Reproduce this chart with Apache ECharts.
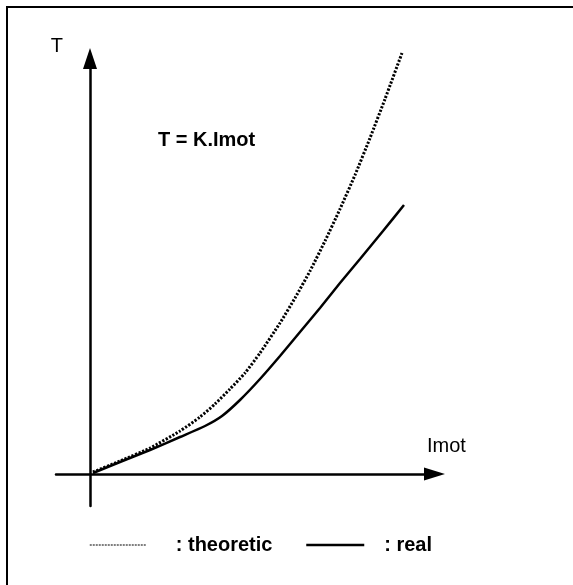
<!DOCTYPE html>
<html>
<head>
<meta charset="utf-8">
<title>T = K.Imot</title>
<script src="https://cdn.jsdelivr.net/npm/echarts/dist/echarts.min.js"></script>
<style>
  html, body { margin: 0; padding: 0; background: #fff; }
  #frame { position: absolute; left: 6px; top: 6px; width: 600px; height: 600px; border-top: 2px solid #000; border-left: 2px solid #000; }
  #chart { position: absolute; left: 0; top: 0; width: 573px; height: 585px; }
</style>
</head>
<body>
<div id="frame"></div>
<div id="chart"></div>
<script>
// theoretic torque (dotted)
var imotTheoretic = [0.3, 3.0, 6.0, 9.0, 11.0, 12.5, 14.0, 15.5, 17.0, 19.0, 20.5, 22.0, 23.5, 25.0, 26.5, 28.0, 29.5, 31.2];
var torqueTheoretic = [0.2, 1.3, 2.6, 4.3, 5.7, 7.0, 8.5, 10.1, 12.1, 15.1, 17.6, 20.3, 23.3, 26.5, 29.9, 33.6, 37.5, 42.1];

// real torque (solid)
var imotReal = [0.3, 3.0, 6.0, 9.0, 11.5, 13.2, 15.0, 17.0, 19.0, 21.0, 23.0, 25.0, 27.0, 29.3, 31.4];
var torqueReal = [0.1, 1.2, 2.4, 3.7, 4.8, 5.8, 7.4, 9.5, 11.8, 14.2, 16.6, 19.1, 21.5, 24.3, 26.9];

var legendNames = ["theoretic", "real"];

function pairs(xs, ys) {
  return xs.map(function(x, i) {
    return [x, ys[i]];
  });
}

var chart = echarts.init(document.getElementById("chart"));
var font = "Liberation Sans, Arial, sans-serif";
var noSymbol = { color: "rgba(0,0,0,0)", borderColor: "rgba(0,0,0,0)", borderWidth: 0 };

chart.setOption({
  animation: false,
  textStyle: { fontFamily: font },
  title: {
    text: "T = K.Imot",
    left: 158,
    top: 130,
    padding: 0,
    textStyle: { fontSize: 20, fontWeight: "bold", color: "#000", fontFamily: font }
  },
  legend: [
    {
      data: [legendNames[0]],
      left: 89,
      top: 535,
      padding: 0,
      itemWidth: 57,
      itemHeight: 14,
      formatter: ": {name}",
      itemStyle: noSymbol,
      lineStyle: { color: "#555", width: 1.5, type: [2, 1] },
      textStyle: { fontSize: 20, fontWeight: "bold", color: "#000", padding: [0, 0, 0, 24] }
    },
    {
      data: [legendNames[1]],
      left: 305,
      top: 535,
      padding: 0,
      itemWidth: 58,
      itemHeight: 14,
      formatter: ": {name}",
      itemStyle: noSymbol,
      lineStyle: { color: "#000", width: 2.5 },
      textStyle: { fontSize: 20, fontWeight: "bold", color: "#000", padding: [0, 0, 0, 15] }
    }
  ],
  grid: {
    left: 56,
    right: 138.5,
    top: 58.5,
    bottom: 79
  },
  xAxis: {
    type: "value",
    min: -3.4,
    max: 34.45,
    name: "Imot",
    nameLocation: "end",
    nameGap: -7.5,
    nameTextStyle: { fontSize: 20, color: "#000", align: "left", verticalAlign: "bottom", padding: [0, 0, 18, 0] },
    axisLine: {
      onZero: true,
      symbol: ["none", "triangle"],
      symbolSize: [13, 21],
      lineStyle: { color: "#000", width: 2.5 }
    },
    axisTick: { show: false },
    axisLabel: { show: false },
    splitLine: { show: false }
  },
  yAxis: {
    type: "value",
    min: -3.2,
    max: 41.55,
    name: "T",
    nameLocation: "end",
    nameGap: 2,
    nameTextStyle: { fontSize: 20, color: "#000", align: "right", verticalAlign: "bottom", padding: [0, 27, 0, 0] },
    axisLine: {
      onZero: true,
      symbol: ["none", "triangle"],
      symbolSize: [14, 21],
      lineStyle: { color: "#000", width: 2.5 }
    },
    axisTick: { show: false },
    axisLabel: { show: false },
    splitLine: { show: false }
  },
  series: [
    {
      name: legendNames[0],
      type: "line",
      data: pairs(imotTheoretic, torqueTheoretic),
      smooth: 0.2,
      symbol: "none",
      clip: false,
      itemStyle: { color: "#000" },
      lineStyle: { color: "#000", width: 3, type: [2.2, 1.6] }
    },
    {
      name: legendNames[1],
      type: "line",
      data: pairs(imotReal, torqueReal),
      smooth: 0.2,
      symbol: "none",
      clip: false,
      itemStyle: { color: "#000" },
      lineStyle: { color: "#000", width: 2.5 }
    }
  ]
});
</script>
</body>
</html>
